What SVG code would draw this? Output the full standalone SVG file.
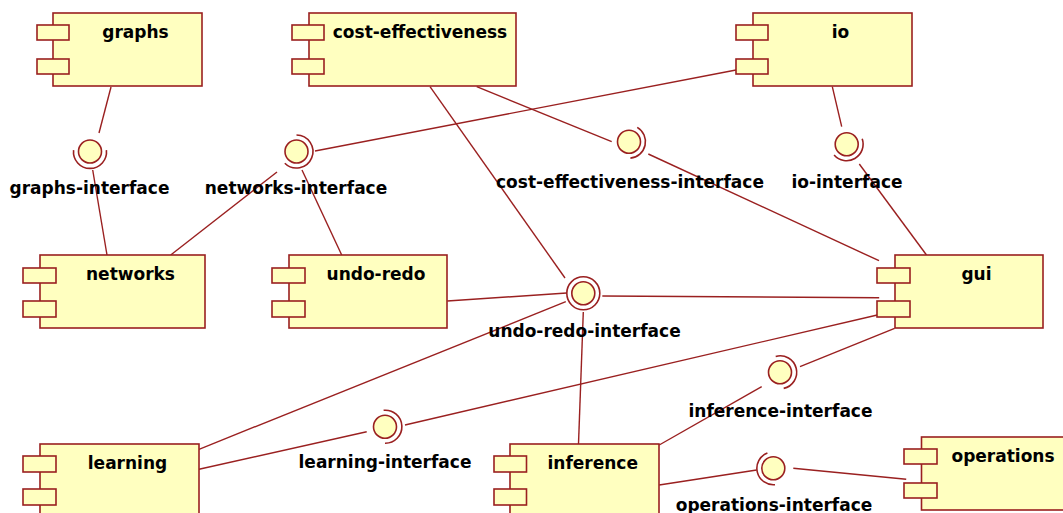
<svg xmlns="http://www.w3.org/2000/svg" width="1063" height="513" viewBox="0 0 1063 513">
<style>
.box{fill:#FFFFC0;stroke:#9A2020;stroke-width:1.6}
.ln{fill:none;stroke:#9A2020;stroke-width:1.4}
.ball{fill:#FFFFC0;stroke:#9A2020;stroke-width:1.6}
.sock{fill:none;stroke:#9A2020;stroke-width:1.6}
text{font-family:"DejaVu Sans","Verdana",sans-serif;font-weight:bold;font-size:17px;fill:#000;text-anchor:middle}
</style>
<rect width="1063" height="513" fill="#fff"/>
<g id="connectors">
<line class="ln" x1="111" y1="87" x2="99" y2="133"/>
<line class="ln" x1="92.7" y1="170" x2="107" y2="255"/>
<line class="ln" x1="277" y1="172" x2="170.7" y2="255"/>
<line class="ln" x1="302" y1="170" x2="341.7" y2="255"/>
<line class="ln" x1="736" y1="70" x2="315" y2="151"/>
<line class="ln" x1="430" y1="86.7" x2="565" y2="278"/>
<line class="ln" x1="476.7" y1="86.7" x2="611.7" y2="141.7"/>
<line class="ln" x1="648.3" y1="154" x2="879" y2="260.7"/>
<line class="ln" x1="832.3" y1="86.7" x2="841.7" y2="126.7"/>
<line class="ln" x1="859.3" y1="164" x2="926.5" y2="255"/>
<line class="ln" x1="447.3" y1="301" x2="566.7" y2="293"/>
<line class="ln" x1="602.3" y1="296" x2="879.2" y2="297.7"/>
<line class="ln" x1="583.3" y1="312" x2="578.5" y2="444"/>
<line class="ln" x1="565.8" y1="301.7" x2="199" y2="449.3"/>
<line class="ln" x1="877.3" y1="315" x2="405" y2="425"/>
<line class="ln" x1="366.7" y1="431.7" x2="199" y2="469.3"/>
<line class="ln" x1="894.6" y1="328.3" x2="800" y2="366.7"/>
<line class="ln" x1="761.7" y1="386.7" x2="659.2" y2="445"/>
<line class="ln" x1="659.2" y1="485" x2="756.7" y2="470"/>
<line class="ln" x1="793.3" y1="468.3" x2="906.2" y2="479.3"/>
</g>
<g id="graphs">
<rect class="box" x="53" y="13" width="149" height="73"/>
<rect class="box" x="37" y="25" width="32" height="15"/>
<rect class="box" x="37" y="59" width="32" height="15"/>
<text x="135.5" y="38">graphs</text>
</g>
<g id="cost-effectiveness">
<rect class="box" x="309" y="13" width="207" height="73"/>
<rect class="box" x="292" y="25" width="32" height="15"/>
<rect class="box" x="292" y="59" width="32" height="15"/>
<text x="420" y="38">cost-effectiveness</text>
</g>
<g id="io">
<rect class="box" x="753" y="13" width="159" height="73"/>
<rect class="box" x="736" y="25" width="32" height="15"/>
<rect class="box" x="736" y="59" width="32" height="15"/>
<text x="840.5" y="38">io</text>
</g>
<g id="networks">
<rect class="box" x="40" y="255" width="165" height="73"/>
<rect class="box" x="23" y="268" width="33" height="15"/>
<rect class="box" x="23" y="301" width="33" height="16"/>
<text x="130.5" y="280">networks</text>
</g>
<g id="undo-redo">
<rect class="box" x="289" y="255" width="158" height="73"/>
<rect class="box" x="272" y="268" width="33" height="15"/>
<rect class="box" x="272" y="301" width="33" height="16"/>
<text x="376" y="280">undo-redo</text>
</g>
<g id="gui">
<rect class="box" x="895" y="255" width="148" height="73"/>
<rect class="box" x="877" y="268" width="33" height="15"/>
<rect class="box" x="877" y="301" width="33" height="16"/>
<text x="976.5" y="280">gui</text>
</g>
<g id="learning">
<rect class="box" x="40" y="444" width="159" height="73"/>
<rect class="box" x="23" y="456" width="33" height="16"/>
<rect class="box" x="23" y="489" width="33" height="16"/>
<text x="127.5" y="469">learning</text>
</g>
<g id="inference">
<rect class="box" x="510" y="444" width="149" height="73"/>
<rect class="box" x="494" y="456" width="32.5" height="16"/>
<rect class="box" x="494" y="489" width="32.5" height="16"/>
<text x="592.7" y="469">inference</text>
</g>
<g id="operations">
<rect class="box" x="921.5" y="437" width="148" height="73"/>
<rect class="box" x="904" y="449" width="33" height="15"/>
<rect class="box" x="904" y="483" width="33" height="15"/>
<text x="1003" y="462">operations</text>
</g>
<g id="graphs-interface">
<circle class="ball" cx="90" cy="151.5" r="11.5"/>
<path class="sock" d="M106.4,150.1 A16.5,16.5 0 1 1 73.6,150.1"/>
<text x="89.5" y="193.5">graphs-interface</text>
</g>
<g id="networks-interface">
<circle class="ball" cx="296.5" cy="151.5" r="11.5"/>
<path class="sock" d="M296.5,135 A16.5,16.5 0 1 1 284.8,163.2"/>
<text x="296" y="193.5">networks-interface</text>
</g>
<g id="cost-effectiveness-interface">
<circle class="ball" cx="629" cy="141.7" r="11.5"/>
<path class="sock" d="M637.25,127.4 A16.5,16.5 0 0 1 630.4,158.1"/>
<text x="630" y="188">cost-effectiveness-interface</text>
</g>
<g id="io-interface">
<circle class="ball" cx="846.7" cy="144.3" r="11.5"/>
<path class="sock" d="M862.2,138.7 A16.5,16.5 0 0 1 834.1,154.9"/>
<text x="847" y="188">io-interface</text>
</g>
<g id="undo-redo-interface">
<circle class="ball" cx="583.3" cy="293.3" r="11.5"/>
<circle class="sock" cx="583.3" cy="293.3" r="16.5"/>
<text x="584.5" y="336.5">undo-redo-interface</text>
</g>
<g id="inference-interface">
<circle class="ball" cx="780" cy="372.3" r="11.5"/>
<path class="sock" d="M775.7,356.4 A16.5,16.5 0 1 1 783.7,388.4"/>
<text x="780.5" y="416.5">inference-interface</text>
</g>
<g id="learning-interface">
<circle class="ball" cx="385" cy="426.7" r="11.5"/>
<path class="sock" d="M383.6,410.3 A16.5,16.5 0 1 1 385,443.2"/>
<text x="385" y="468">learning-interface</text>
</g>
<g id="operations-interface">
<circle class="ball" cx="773.3" cy="468.3" r="11.5"/>
<path class="sock" d="M775,484.7 A16.5,16.5 0 0 1 767.4,452.9"/>
<text x="774" y="511">operations-interface</text>
</g>
</svg>
